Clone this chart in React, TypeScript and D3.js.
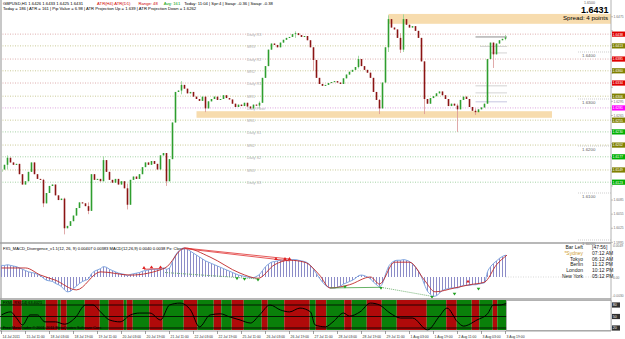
import React from 'react';
import * as d3 from 'd3';

const W = 625;
const H = 339;

// H1 chart, one candle per 2 hours; closes in pips above 1.6000
const closes = [150,160,175,165,160,162,140,118,125,145,
165,140,130,128,78,100,115,118,95,85,
88,25,30,40,52,68,80,78,72,62,
140,128,130,125,170,145,128,122,130,118,
125,110,75,128,135,130,140,155,165,160,
168,162,150,180,185,125,172,250,315,318,
330,322,312,315,305,300,296,305,280,295,
300,305,298,300,308,302,299,290,283,288,
285,292,284,280,288,286,292,345,370,405,
418,415,410,420,426,430,432,438,440,436,
432,434,425,410,383,345,332,328,330,334,
336,338,335,332,344,352,358,362,368,385,
370,362,356,345,315,298,280,335,410,470,
452,448,430,405,470,458,452,455,445,430,
380,300,290,302,306,312,316,308,300,285,
290,286,278,298,305,300,283,275,272,278,
282,290,385,420,395,418,425,428,431];
const firstOpen = 145;
// [candle index, high, low] for visible wicks
const wicks = [[2,180,150],[14,130,70],[21,90,12],[29,80,55],[34,178,125],[42,120,65],[55,180,115],[60,338,310],[68,305,272],[86,295,280],[98,444,430],[104,410,360],[119,392,365],[126,300,268],[129,478,400],[133,440,398],[134,480,400],[141,380,268],[152,290,230],[158,280,266],[164,420,366],[168,436,425]];

const macdHist = [18,18,19,18,17,16,14,12,10,8,
7,6,4,2,-2,-5,-6,-7,-10,-12,
-15,-20,-23,-22,-18,-14,-10,-7,-5,-3,
5,9,11,13,16,15,12,10,8,6,
5,4,2,4,5,6,7,9,10,11,
12,12,12,13,14,12,14,24,34,40,
44,45,43,40,37,34,31,28,25,23,
21,19,17,15,13,11,9,7,5,3,
2,1,0,-1,-1,1,4,10,16,20,
23,24,25,26,26,26,27,27,27,26,
25,24,22,18,12,5,-2,-8,-13,-16,
-17,-17,-16,-14,-11,-9,-7,-5,-2,2,
3,2,0,-3,-8,-12,-15,-10,4,16,
22,25,26,26,27,26,24,20,15,9,
0,-12,-22,-27,-30,-29,-25,-21,-19,-18,
-17,-17,-17,-15,-13,-13,-13,-12,-12,-11,
-10,-9,8,16,21,25,29,32,34];
const signalHours = [0,16,26,36,50,66,86,109,122,139,159,171,182,192,202,212,219,232,246,252,262,272,282,289,302,312,322,330,337];
const signalVals = [14,14,3,-5,-20,8,3,14,45,31,6,-2,19,26,23,3,-17,-12,0,-11,23,23,-5,-23,-17,-12,-8,19,34];
const redDiv = [[[95,12],[106,13]],[[122,45],[192,28]],[[122,44],[192,25]]];
const greenDiv = [[[219,-17],[253,-16]]];
const greenDotDiv = [[[109,7],[171,-3]],[[253,-16],[287,-30]]];
const redArrows = [[95,13],[100,14],[106,14],[183,27],[189,27],[192,27],[311,-8]];
const greenArrows = [[157,-1],[162,-2],[171,-3],[229,-14],[253,-16],[287,-30],[302,-25],[318,-17]];

const oscHours = [0,6,10,14,19,24,29,36,42,49,56,61,66,72,79,86,92,99,106,112,119,126,132,139,146,152,159,166,172,179,186,192,199,206,209,216,221,228,232,239,246,252,259,266,274,284,292,297,304,308,317,324,328,332,337];
const oscVals = [54,62,46,28,54,54,36,36,30,46,80,80,62,41,36,54,59,59,41,80,85,67,23,54,57,49,41,33,54,80,67,62,72,62,28,23,36,59,51,62,85,80,59,46,46,15,51,72,36,25,41,57,80,80,85];
const oscBounds = [0,8,14,30,38,40,44,56,66,72,82,84,88,99,108,122,131,142,147,154,162,174,178,189,206,210,217,229,234,244,254,264,284,297,304,314,319,328,331,337];
const oscLevels = [80,50,20];

const pivotNames = ['Daily R3','MR3','Daily R2','MR2','Daily R1','MR1','Daily Pivot','MS1','Daily S1','MS2','Daily S2','MS3','Daily S3'];
const pivotPrices = [1.6438,1.6413,1.6385,1.6360,1.6334,1.6306,1.6281,1.6255,1.6230,1.6202,1.6177,1.6149,1.6123];
const zones = [[258,400,1.6481,1.6460],[130,367,1.6274,1.6260]];
const markLevels = [[316,337,1.6432,'#707070'],[319,337,1.6412,'#c8c8c8'],[326,337,1.6398,'#c8c8c8'],[316,337,1.6328,'#c8c8c8'],[316,337,1.6313,'#c8c8c8'],[316,337,1.6294,'#b8b8d8']];
const roundLevels = ['1.6400','1.6300','1.6200','1.6100','1.6000'];
const axisPrices = ['1.6475','1.6445','1.6415','1.6385','1.6355','1.6325','1.6295','1.6265','1.6235','1.6205','1.6175','1.6145','1.6115','1.6085','1.6055','1.6025','1.5995'];
const timeLabels = ['14 Jul 2011','15 Jul 11:00','18 Jul 03:00','18 Jul 19:00','19 Jul 11:00','20 Jul 03:00','20 Jul 19:00','21 Jul 11:00','22 Jul 03:00','22 Jul 19:00','25 Jul 11:00','26 Jul 03:00','26 Jul 19:00','27 Jul 11:00','28 Jul 03:00','28 Jul 19:00','29 Jul 11:00','1 Aug 03:00','1 Aug 19:00','2 Aug 11:00','3 Aug 03:00','3 Aug 19:00'];
const clockNames = ['Bar Left','*Sydney','Tokyo','Berlin','London','New York'];
const clockVals = ['[47:56]','07:12 AM','06:12 AM','11:12 PM','10:12 PM','05:12 PM'];

const FONT = 'Liberation Sans, Arial, sans-serif';

export default function App() {
  const x = d3.scaleLinear().domain([0, 336]).range([1.5, 505.5]);
  const yP = d3.scaleLinear().domain([1.6, 1.65]).range([240, 5]);
  const pip = (p: number) => 1.6 + p / 10000;
  const yM = d3.scaleLinear().domain([0, 45]).range([277, 248]);
  const yO = d3.scaleLinear().domain([20, 80]).range([328, 305]);
  const plotRight = 611;

  const candles = closes.map((c, i) => {
    const o = i === 0 ? firstOpen : closes[i - 1];
    let hi = Math.max(o, c), lo = Math.min(o, c);
    const w = wicks.find(k => k[0] === i);
    if (w) { hi = Math.max(hi, w[1]); lo = Math.min(lo, w[2]); }
    return { i, o, c, hi, lo };
  });

  const pivotColor = (n: string) => n.startsWith('M') ? ['#b4b46c', '#808000'] : n.includes('R') ? ['#d08c8c', '#e00000'] : n.includes('Pivot') ? ['#d080d0', '#ff00ff'] : ['#80c080', '#00b000'];

  const sigLine = d3.line<number>().x((d, i) => x(signalHours[i])).y(d => yM(d)).curve(d3.curveMonotoneX);
  const macdLine = d3.line<number>().x((d, i) => x(2 * i)).y(d => yM(d)).curve(d3.curveMonotoneX);
  const oscLine = d3.line<number>().x((d, i) => x(oscHours[i])).y(d => yO(d)).curve(d3.curveMonotoneX);

  const t = { fontFamily: FONT, fontSize: 5.5 } as React.CSSProperties;
  const boxYs = pivotPrices.map(p => yP(p));
  const visibleAxis = axisPrices.filter(s => boxYs.every(b => Math.abs(b - yP(+s)) > 4.5));

  return (
    <svg width={W} height={H} style={{ position: 'fixed', left: 0, top: 0, background: '#fff' }}>
      <rect x={0} y={0} width={W} height={H} fill="#fff" />
      {/* zones */}
      {zones.map((z, k) => (
        <rect key={k} x={x(z[0])} y={yP(z[2])} width={(z[1] as number) > 380 ? plotRight - x(z[0]) : x(z[1]) - x(z[0])} height={yP(z[3]) - yP(z[2])} fill="#f7dcae" />
      ))}
      {/* right price axis */}
      {axisPrices.map(s => (
        <line key={s} x1={plotRight} x2={plotRight + 2} y1={yP(+s)} y2={yP(+s)} stroke="#808080" strokeWidth={0.5} />
      ))}
      {visibleAxis.map(s => (
        <text key={s} x={plotRight + 2.5} y={yP(+s) + 1.2} style={{ ...t, fontSize: 3.3 }} fill="#707070">{s}</text>
      ))}
      {/* pivot lines */}
      {pivotNames.map((n, k) => {
        const yy = yP(pivotPrices[k]);
        const [lc, bc] = pivotColor(n);
        return (
          <g key={n}>
            <line x1={0} x2={plotRight} y1={yy} y2={yy} stroke={lc} strokeWidth={0.7} strokeDasharray="1,1.5" />
            <text x={247} y={yy + 2.2} style={{ ...t, fontSize: 3.8 }} fill="#b0b0b0">{n}</text>
            <rect x={plotRight + 1} y={yy - 2.6} width={13} height={5.2} fill={bc} />
            <text x={plotRight + 1.6} y={yy + 1.4} style={{ ...t, fontSize: 3.4 }} fill="#fff">{pivotPrices[k].toFixed(4)}</text>
          </g>
        );
      })}
      {/* round levels */}
      {roundLevels.map(s => {
        const yy = yP(+s);
        return (
          <g key={s}>
            <line x1={578} x2={plotRight} y1={yy} y2={yy} stroke="#b0b0b0" strokeWidth={0.6} strokeDasharray="1,1" />
            <text x={582} y={yy + 4.5} style={{ ...t, fontSize: 4.4 }} fill="#606060">{s}</text>
          </g>
        );
      })}
      {/* marker levels */}
      {markLevels.map((m, k) => (
        <line key={k} x1={x(m[0] as number)} x2={x(m[1] as number)} y1={yP(m[2] as number)} y2={yP(m[2] as number)} stroke={m[3] as string} strokeWidth={0.8} />
      ))}
      {/* candles */}
      {candles.map(d => {
        const cx = x(2 * d.i);
        const up = d.c >= d.o;
        const top = yP(pip(Math.max(d.o, d.c)));
        const bot = yP(pip(Math.min(d.o, d.c)));
        return (
          <g key={d.i}>
            <line x1={cx} x2={cx} y1={yP(pip(d.hi))} y2={yP(pip(d.lo))} stroke={up ? '#8fd08f' : '#d89494'} strokeWidth={0.8} />
            <rect x={cx - 0.8} y={top} width={1.6} height={Math.max(1, bot - top)} fill={up ? '#2e9e2e' : '#8b1414'} />
          </g>
        );
      })}
      {/* price box */}
      <text x={584} y={3.6} style={{ ...t, fontSize: 3.6 }} fill="#606060">1.6500</text>
      <text x={581} y={13} style={{ fontFamily: FONT, fontSize: 9, fontWeight: 'bold' }} fill="#000">1.6431</text>
      <text x={608} y={20} textAnchor="end" style={{ ...t, fontSize: 6.2 }} fill="#000">Spread: 4 points</text>
      {/* header */}
      <text x={3} y={4.8} style={{ ...t, fontSize: 4.2 }}>
        <tspan fill="#000">GBPUSD,H1  1.6426 1.6433 1.6425 1.6431</tspan>
        <tspan dx={14} fill="#d00000">ATR(H4) ATR(D1)</tspan>
        <tspan dx={8} fill="#d00000">Range: 48</tspan>
        <tspan dx={6} fill="#00a000">Avg: 161</tspan>
        <tspan dx={4} fill="#000">Today: 11:04  | Spr:4  | Swap: -0.36  | Swap: -0.38</tspan>
      </text>
      <text x={3} y={10} style={{ ...t, fontSize: 4.2 }} fill="#000">Today = 186   |   ATR = 161   |   Pip Value = 6.98   |   ATR Projection Up = 1.639   |   ATR Projection Down = 1.6262</text>
      {/* main frame */}
      <line x1={1} x2={1} y1={0} y2={331} stroke="#c8c8c8" strokeWidth={2} />
      <line x1={plotRight} x2={plotRight} y1={0} y2={331} stroke="#a0a0a0" strokeWidth={0.8} />
      <line x1={0} x2={plotRight} y1={243} y2={243} stroke="#a0a0a0" strokeWidth={1.5} />
      {/* MACD panel */}
      <text x={3} y={249.5} style={{ ...t, fontSize: 4.1 }} fill="#000">FX5_MACD_Divergence_v1.1(12, 26, 9) 0.00407 0.00383   MACD(12,26,9) 0.0040 0.0038   Px: Close</text>
      <line x1={x(336)} x2={plotRight} y1={yM(0)} y2={yM(0)} stroke="#c0c0c0" strokeWidth={0.6} strokeDasharray="1,1.5" />
      {macdHist.map((v, i) => (
        <line key={i} x1={x(2 * i)} x2={x(2 * i)} y1={yM(0)} y2={yM(v)} stroke="#8c8cc8" strokeWidth={1} />
      ))}
      <path d={macdLine(macdHist) || ''} fill="none" stroke="#7fa6e0" strokeWidth={1} />
      <path d={sigLine(signalVals) || ''} fill="none" stroke="#c02828" strokeWidth={0.9} />
      {redDiv.map((s, k) => (
        <line key={k} x1={x(s[0][0])} y1={yM(s[0][1])} x2={x(s[1][0])} y2={yM(s[1][1])} stroke="#e03030" strokeWidth={0.8} />
      ))}
      {greenDiv.map((s, k) => (
        <line key={k} x1={x(s[0][0])} y1={yM(s[0][1])} x2={x(s[1][0])} y2={yM(s[1][1])} stroke="#40a040" strokeWidth={0.8} />
      ))}
      {greenDotDiv.map((s, k) => (
        <line key={k} x1={x(s[0][0])} y1={yM(s[0][1])} x2={x(s[1][0])} y2={yM(s[1][1])} stroke="#50a050" strokeWidth={0.8} strokeDasharray="1,1" />
      ))}
      {redArrows.map((a, k) => (
        <path key={k} d={`M${x(a[0])},${yM(a[1]) - 2.5}l1.8,2.8h-3.6z`} fill="#e02020" />
      ))}
      {greenArrows.map((a, k) => (
        <path key={k} d={`M${x(a[0])},${yM(a[1]) + 2.5}l1.8,-2.8h-3.6z`} fill="#20a020" />
      ))}
      {clockNames.map((n, k) => (
        <g key={n}>
          <text x={583} y={249 + k * 5.8} textAnchor="end" style={{ ...t, fontSize: 5 }} fill={k === 1 ? '#d0a030' : '#202020'}>{n}</text>
          <text x={592} y={249 + k * 5.8} style={{ ...t, fontSize: 5 }} fill="#202020">{clockVals[k]}</text>
        </g>
      ))}
      <text x={plotRight + 2} y={247} style={{ ...t, fontSize: 3.3 }} fill="#707070">0.0049</text>
      <text x={plotRight + 2} y={278.5} style={{ ...t, fontSize: 3.3 }} fill="#707070">0.00</text>
      <text x={plotRight + 1.5} y={297} style={{ ...t, fontSize: 3.3 }} fill="#707070">-0.0030</text>
      <line x1={0} x2={plotRight} y1={299} y2={299} stroke="#a0a0a0" strokeWidth={1.5} />
      {/* bottom oscillator panel */}
      {oscBounds.slice(0, -1).map((b, k) => (
        <rect key={k} x={x(b) - 0.75} y={300} width={x(oscBounds[k + 1]) - x(b)} height={30} fill={k % 2 === 0 ? '#0a800a' : '#b00a0a'} />
      ))}
      {oscLevels.map(l => (
        <g key={l}>
          <line x1={0} x2={plotRight} y1={yO(l)} y2={yO(l)} stroke="#000" strokeWidth={0.8} />
          <rect x={plotRight + 1} y={yO(l) - 2.6} width={8} height={5.2} fill="#303030" />
          <text x={plotRight + 1.8} y={yO(l) + 1.4} style={{ ...t, fontSize: 3.6 }} fill="#fff">{l}</text>
        </g>
      ))}
      <path d={oscLine(oscVals) || ''} fill="none" stroke="#000" strokeWidth={1} />
      <text x={3} y={304} style={{ ...t, fontSize: 3.8 }} fill="#000">FXMI_RSI(14) 63.4021</text>
      <text x={3} y={329} style={{ ...t, fontSize: 3.8 }} fill="#000">Free MetaTrader © 2001-2011 MetaQuotes Software Corp.</text>
      <rect x={x(336) + 1} y={300.5} width={plotRight - x(336) - 1} height={30} fill="#fff" stroke="#a0a0a0" strokeWidth={0.8} />
      <line x1={0} x2={plotRight} y1={331} y2={331} stroke="#a0a0a0" strokeWidth={1} />
      {/* time axis */}
      {timeLabels.map((s, k) => (
        <g key={s}>
          <line x1={x(16 * k)} x2={x(16 * k)} y1={331} y2={334} stroke="#606060" strokeWidth={0.6} />
          <text x={x(16 * k) + 1} y={337.5} style={{ ...t, fontSize: 3.4 }} fill="#303030">{s}</text>
        </g>
      ))}
    </svg>
  );
}
